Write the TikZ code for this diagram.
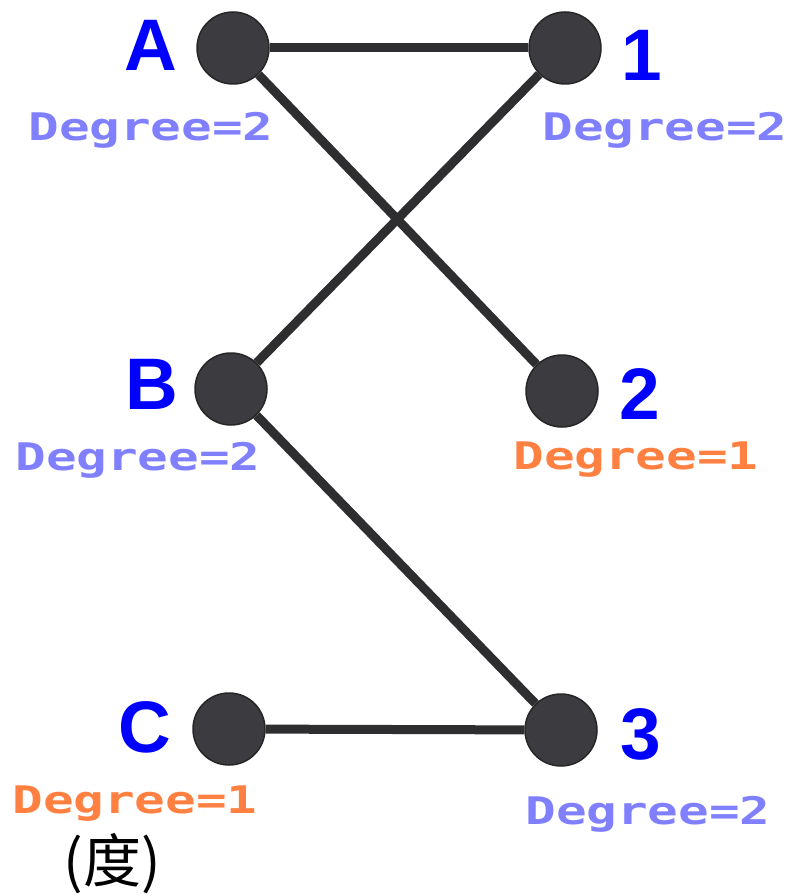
\documentclass[tikz,border=0pt]{standalone}
\usepackage{fontspec}
\newfontfamily\labelfont{Liberation Sans}
\newfontfamily\degfont{DejaVu Sans Mono}
\newfontfamily\cjkfont{Noto Sans CJK SC}

\definecolor{vertexgray}{HTML}{3C3C40}
\definecolor{edgegray}{HTML}{2E2E30}
\definecolor{labelblue}{HTML}{0000FF}
\definecolor{degblue}{HTML}{8080FF}
\definecolor{degorange}{HTML}{FF8040}

\begin{document}
\begin{tikzpicture}[
    x=1pt, y=-1pt,
    vertex/.style={circle, fill=vertexgray, draw=black!85, line width=1.5pt, minimum size=72pt, inner sep=0pt},
    edge/.style={draw=edgegray, line width=9pt},
    vname/.style={text=labelblue, font=\labelfont\bfseries\fontsize{73}{80}\selectfont, inner sep=0pt},
    degtext/.style={font=\degfont\bfseries\fontsize{38}{40}\selectfont, xscale=1.34, transform shape, inner sep=0pt}
]
    \useasboundingbox (0,0) rectangle (789,896);

    % Draw the vertices
    \node[vertex] (nA) at (233,48) {};
    \node[vertex] (n1) at (565,48) {};
    \node[vertex] (nB) at (231,389) {};
    \node[vertex] (n2) at (562,391) {};
    \node[vertex] (nC) at (229,729) {};
    \node[vertex] (n3) at (561,730) {};

    % Draw the edges
    \draw[edge] (nA) -- (n1);
    \draw[edge] (nA) -- (n2);
    \draw[edge] (nB) -- (n1);
    \draw[edge] (nB) -- (n3);
    \draw[edge] (nC) -- (n3);

    % Label the vertices
    \node[vname] (lA) at (151,45) {A};
    \node[vname] (l1) at (642,55) {1};
    \node[vname] (lB) at (152,384) {B};
    \node[vname] (l2) at (640,394) {2};
    \node[vname] (lC) at (145,727) {C};
    \node[vname] (l3) at (641,734) {3};

    % Degrees
    \node[degtext, text=degblue] (dA) at (151,130) {Degree=2};
    \node[degtext, text=degblue] (d1) at (665,130) {Degree=2};
    \node[degtext, text=degblue] (dB) at (138,460) {Degree=2};
    \node[degtext, text=degorange] (d2) at (636,460) {Degree=1};
    \node[degtext, text=degorange] (dC) at (135,804) {Degree=1};
    \node[degtext, text=degblue] (d3) at (648,814) {Degree=2};

    \node[font=\cjkfont\fontsize{58}{60}\selectfont, inner sep=0pt] (deg) at (112,864) {(度)};

\end{tikzpicture}
\end{document}
